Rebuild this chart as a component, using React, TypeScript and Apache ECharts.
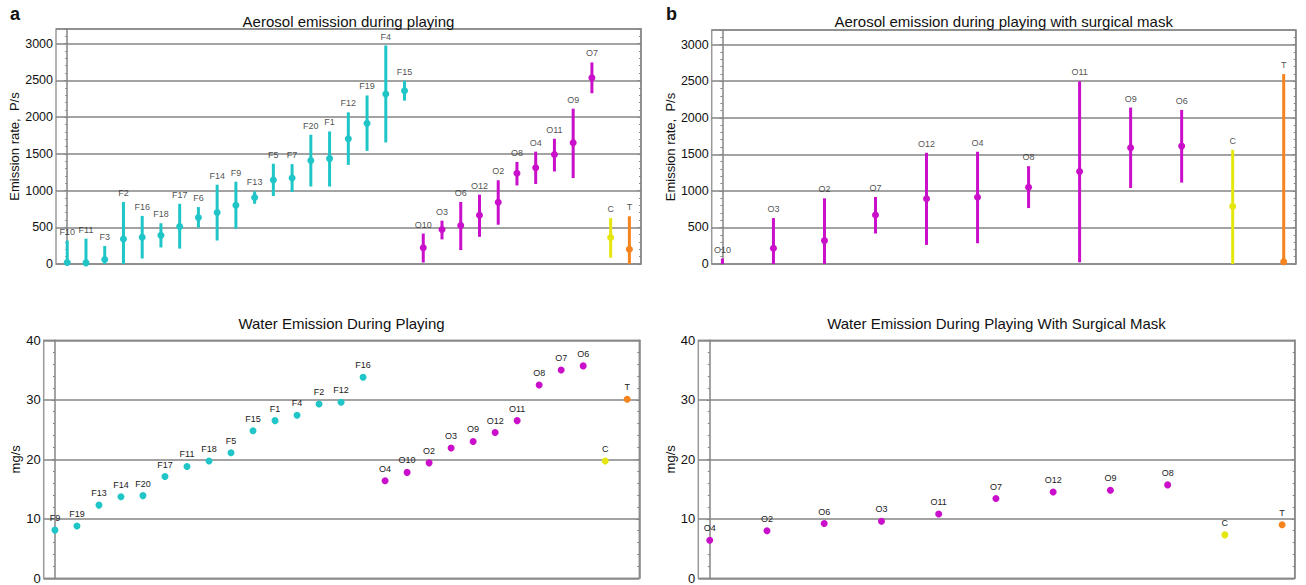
import React, { useEffect, useRef } from "react";
import * as echarts from "echarts";

// ---------- data ----------
const aeroCats = ["F10","F11","F3","F2","F16","F18","F17","F6","F14","F9","F13","F5","F7","F20","F1","F12","F19","F4","F15","O10","O3","O6","O12","O2","O8","O4","O11","O9","O7","C","T"];
const aeroMean = [20,15,60,340,365,390,510,633,700,800,905,1143,1170,1410,1435,1705,1915,2315,2360,220,470,525,665,840,1235,1310,1490,1650,2535,360,200];
const aeroLow = [0,0,0,0,75,225,210,495,320,480,820,925,980,1055,1055,1350,1540,1655,2225,20,335,190,370,535,1070,1090,1260,1170,2325,85,0];
const aeroHigh = [320,345,245,845,655,555,820,775,1080,1120,990,1365,1360,1760,1805,2065,2295,2975,2495,415,590,845,945,1140,1390,1530,1705,2115,2745,625,650];

const maskCats = ["O10","O3","O2","O7","O12","O4","O8","O11","O9","O6","C","T"];
const maskMean = [null,215,320,669,893,912,1049,1264,1590,1612,788,32];
const maskLow = [0,0,0,417,261,284,765,23,1040,1113,0,0];
const maskHigh = [75,628,898,916,1521,1535,1338,2497,2139,2107,1562,2597];

const waterCats = ["F9","F19","F13","F14","F20","F17","F11","F18","F5","F15","F1","F4","F2","F12","F16","O4","O10","O2","O3","O9","O12","O11","O8","O7","O6","C","T"];
const waterVals = [8.1,8.8,12.3,13.7,13.9,17.1,18.8,19.7,21.1,24.8,26.5,27.4,29.3,29.6,33.8,16.4,17.8,19.4,21.9,23.0,24.5,26.5,32.5,35.0,35.7,19.7,30.1];

const maskWaterCats = ["O4","O2","O6","O3","O11","O7","O12","O9","O8","C","T"];
const maskWaterVals = [6.4,8.0,9.2,9.6,10.8,13.4,14.5,14.8,15.7,7.3,9.0];

const aeroTicks = { min: 0, max: 3200, interval: 500 };
const waterTicks = { min: 0, max: 40, interval: 10 };

// ---------- styling ----------
const FONT = "Liberation Sans, Arial, Helvetica, sans-serif";
const GRID_COLOR = "#858585";
const colorOf = (name: string) =>
  name[0] === "F" ? "#1fc5c7" : name[0] === "O" ? "#c90fc9" : name === "C" ? "#e6e60f" : "#f5841f";

export default function App() {
  const ref = useRef<HTMLDivElement>(null);

  useEffect(() => {
    if (!ref.current) return;
    const chart = echarts.init(ref.current, null, { renderer: "svg" });

    const grids = [
      { left: 56, right: 665, top: 29, bottom: 321 },
      { left: 711.7, right: 10.3, top: 30, bottom: 321 },
      { left: 43.7, right: 666.7, top: 340.3, bottom: 6.7 },
      { left: 698.3, right: 11.3, top: 340.3, bottom: 6.7 },
    ].map((g) => ({ ...g, show: true, borderColor: "#9a9a9a", borderWidth: 1.5 }));

    const xRanges = [
      [-0.6, aeroCats.length - 1 + 0.62],
      [-0.21, maskCats.length - 1 + 0.235],
      [-0.51, waterCats.length - 1 + 0.55],
      [-0.2, maskWaterCats.length - 1 + 0.22],
    ];
    const xAxis = xRanges.map((r, i) => ({
      type: "value",
      gridIndex: i,
      min: r[0],
      max: r[1],
      show: false,
    }));

    const yNames = ["Emission rate,  P/s", "Emission rate,  P/s", "mg/s", "mg/s"];
    const yGaps = [33, 33, 20, 20];
    const yTicks = [aeroTicks, aeroTicks, waterTicks, waterTicks];
    const yAxis: any[] = [];
    yTicks.forEach((t, i) => {
      yAxis.push({
        type: "value",
        gridIndex: i,
        position: "left",
        min: t.min,
        max: t.max,
        interval: t.interval,
        name: yNames[i],
        nameLocation: "middle",
        nameGap: yGaps[i],
        nameTextStyle: { fontFamily: FONT, fontSize: 13, color: "#111" },
        axisLine: { show: true, lineStyle: { color: GRID_COLOR, width: 1.5 } },
        axisTick: { show: true, inside: false, length: 3, lineStyle: { color: GRID_COLOR } },
        minorTick: { show: true, splitNumber: 5, length: 2, lineStyle: { color: GRID_COLOR } },
        axisLabel: {
          fontFamily: FONT,
          fontSize: i < 2 ? 12.5 : 13,
          color: "#111",
          margin: 3,
          showMaxLabel: i >= 2,
          formatter: (v: number) => String(v),
        },
        splitLine: { show: true, lineStyle: { color: GRID_COLOR, width: 1.5 } },
      });
      yAxis.push({
        type: "value",
        gridIndex: i,
        position: "right",
        min: t.min,
        max: t.max,
        interval: t.interval,
        axisLine: { show: true, lineStyle: { color: GRID_COLOR, width: 1.5 } },
        axisTick: { show: true, inside: true, length: 3, lineStyle: { color: GRID_COLOR } },
        minorTick: { show: true, splitNumber: 5, length: 2, lineStyle: { color: GRID_COLOR } },
        axisLabel: { show: false },
        splitLine: { show: false },
      });
    });

    const labelStyle = { fontFamily: FONT, fontSize: 9, color: "#222" };

    const errorPanel = (g: number, cats: string[], mean: (number | null)[], low: number[], high: number[]) => {
      const colors = cats.map(colorOf);
      return [
        {
          type: "custom",
          xAxisIndex: g,
          yAxisIndex: g * 2,
          clip: true,
          encode: { x: 0, y: [1, 2] },
          data: cats.map((c, i) => [i, low[i], high[i]]),
          renderItem: (params: any, api: any) => {
            const x = api.value(0);
            const p1 = api.coord([x, api.value(1)]);
            const p2 = api.coord([x, api.value(2)]);
            return {
              type: "line",
              shape: { x1: p1[0], y1: p1[1], x2: p2[0], y2: p2[1] },
              style: { stroke: colors[params.dataIndex], lineWidth: 3 },
            };
          },
          z: 3,
        },
        {
          type: "scatter",
          xAxisIndex: g,
          yAxisIndex: g * 2,
          symbolSize: 7,
          clip: true,
          data: cats
            .map((c, i) =>
              mean[i] === null ? null : { value: [i, mean[i]], itemStyle: { color: colors[i], opacity: 1 } }
            )
            .filter((d) => d !== null),
          z: 4,
        },
        {
          type: "scatter",
          xAxisIndex: g,
          yAxisIndex: g * 2,
          symbolSize: 1,
          itemStyle: { color: "rgba(0,0,0,0)" },
          data: cats.map((c, i) => ({ value: [i, high[i]], name: c })),
          label: { show: true, position: "top", distance: 4, formatter: "{b}", ...labelStyle },
          z: 5,
        },
      ];
    };

    const dotPanel = (g: number, cats: string[], vals: number[]) => [
      {
        type: "scatter",
        xAxisIndex: g,
        yAxisIndex: g * 2,
        symbolSize: 7,
        data: cats.map((c, i) => ({ value: [i, vals[i]], name: c, itemStyle: { color: colorOf(c), opacity: 1 } })),
        label: { show: true, position: "top", distance: 4, formatter: "{b}", ...labelStyle },
        z: 4,
      },
    ];

    const titleBase = { textAlign: "center", padding: 0 };
    const tStyle = { fontFamily: FONT, fontSize: 15, fontWeight: "normal", color: "#111" };
    const letterStyle = { fontFamily: FONT, fontSize: 18, fontWeight: "bold", color: "#111" };

    chart.setOption({
      animation: false,
      backgroundColor: "#ffffff",
      title: [
        { ...titleBase, text: "Aerosol emission during playing", left: 348.5, top: 14, textStyle: tStyle },
        { ...titleBase, text: "Aerosol emission during playing with surgical mask", left: 1003.7, top: 14, textStyle: tStyle },
        { ...titleBase, text: "Water Emission During Playing", left: 341.5, top: 316, textStyle: tStyle },
        { ...titleBase, text: "Water Emission During Playing With Surgical Mask", left: 996.5, top: 316, textStyle: tStyle },
        { text: "a", left: 10, top: 5, padding: 0, textStyle: letterStyle },
        { text: "b", left: 666, top: 5, padding: 0, textStyle: letterStyle },
      ],
      grid: grids,
      xAxis,
      yAxis,
      series: [
        ...errorPanel(0, aeroCats, aeroMean, aeroLow, aeroHigh),
        ...errorPanel(1, maskCats, maskMean, maskLow, maskHigh),
        ...dotPanel(2, waterCats, waterVals),
        ...dotPanel(3, maskWaterCats, maskWaterVals),
      ],
    });

    return () => chart.dispose();
  }, []);

  return (
    <div
      ref={ref}
      style={{ position: "fixed", left: 0, top: 0, width: 1306, height: 585, background: "#fff" }}
    />
  );
}
